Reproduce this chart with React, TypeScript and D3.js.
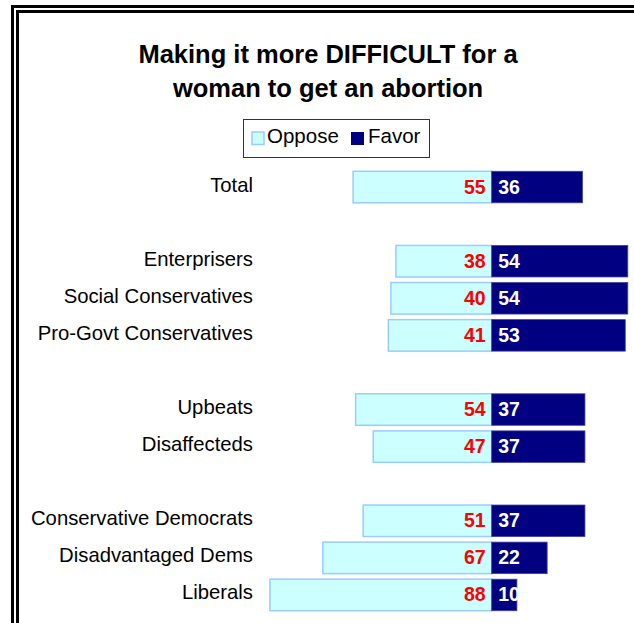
import React from 'react';
import * as d3 from 'd3';

// rows, with empty strings as the spacers between groups
const categories = [
    'Total', '',
    'Enterprisers', 'Social Conservatives', 'Pro-Govt Conservatives', '',
    'Upbeats', 'Disaffecteds', '',
    'Conservative Democrats', 'Disadvantaged Dems', 'Liberals',
];
const oppose: (number | null)[] = [55, null, 38, 40, 41, null, 54, 47, null, 51, 67, 88];
const favor: (number | null)[] = [36, null, 54, 54, 53, null, 37, 37, null, 37, 22, 10];
const titleLines = ['Making it more DIFFICULT for a', 'woman to get an abortion'];
const legendItems = ['Oppose', 'Favor'];

const W = 634;
const H = 623;
const FONT = 'Arial, "Liberation Sans", Helvetica, sans-serif';
const OPPOSE_FILL = '#CCFFFF';
const OPPOSE_STROKE = '#99CCFF';
const FAVOR_FILL = '#000080';

const App: React.FC = () => {
    const x = d3.scaleLinear().domain([-90, 55]).range([264.9, 630.3]);
    const y = d3.scaleBand<number>()
        .domain(d3.range(categories.length))
        .range([168.5, 613.5])
        .paddingInner(0.15)
        .paddingOuter(0.075);
    const bw = y.bandwidth();

    return (
        <svg width={W} height={H} style={{ position: 'absolute', left: 0, top: 0, background: '#fff' }}>
            {/* double frame, running off the right and bottom edges */}
            <rect x={12.5} y={6.5} width={W + 20} height={H + 20} fill="none" stroke="#000" strokeWidth={3} />
            <rect x={17.5} y={11.5} width={W + 20} height={H + 20} fill="none" stroke="#000" strokeWidth={3} />

            {titleLines.map((t, i) => (
                <text key={t} x={328} y={63 + i * 34} textAnchor="middle"
                    fontFamily={FONT} fontWeight="bold" fontSize={25.5} fill="#000">{t}</text>
            ))}

            {/* legend */}
            <g fontFamily={FONT} fontSize={20.5}>
                <rect x={243.5} y={119.5} width={186} height={38} fill="#fff" stroke="#333" strokeWidth={1} />
                <rect x={252} y={132} width={12} height={12.5} fill={OPPOSE_FILL} stroke={OPPOSE_STROKE} strokeWidth={1.5} />
                <text x={267} y={143} fill="#000">{legendItems[0]}</text>
                <rect x={351} y={132} width={13} height={13} fill={FAVOR_FILL} />
                <text x={368} y={143} fill="#000">{legendItems[1]}</text>
            </g>

            {categories.map((c, i) => {
                const o = oppose[i];
                const f = favor[i];
                if (!c || o == null || f == null) return null;
                const top = y(i) as number;
                const cy = top + bw / 2;
                return (
                    <g key={c}>
                        <text x={253} y={cy + 4.5} textAnchor="end" fontFamily={FONT} fontSize={20.3} fill="#000">{c}</text>
                        <rect x={x(-o)} y={top} width={x(0) - x(-o)} height={bw}
                            fill={OPPOSE_FILL} stroke={OPPOSE_STROKE} strokeWidth={1.5} />
                        <rect x={x(0)} y={top} width={x(f) - x(0)} height={bw}
                            fill={FAVOR_FILL} stroke="#4040a0" strokeWidth={0.8} />
                        <text x={x(0) - 6} y={cy + 6.5} textAnchor="end" fontFamily={FONT}
                            fontWeight="bold" fontSize={19.5} fill="#FF0000">{o}</text>
                        <text x={x(0) + 6.5} y={cy + 6.5} fontFamily={FONT}
                            fontWeight="bold" fontSize={19.5} fill="#fff">{f}</text>
                    </g>
                );
            })}
        </svg>
    );
};

export default App;
